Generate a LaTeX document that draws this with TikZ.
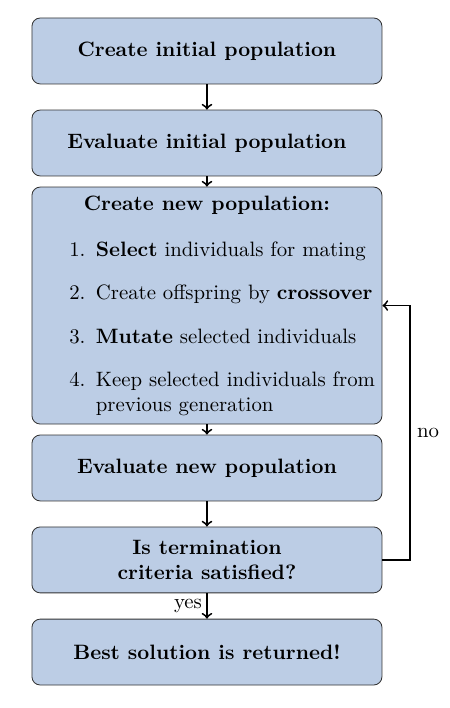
\documentclass[tikz,border=0pt]{standalone}
\usetikzlibrary{positioning}
\definecolor{boxfill}{RGB}{188,205,229}
\begin{document}
\begin{tikzpicture}[
  box/.style={draw=black!80, line width=0.4pt, fill=boxfill, rounded corners=4pt,
    minimum width=168.3pt, minimum height=31.7pt, align=center, font=\bfseries, inner sep=3.33pt},
  conn/.style={->, line width=0.9pt}
]
\useasboundingbox (0,0) rectangle (216.3pt,-340.4pt);
\node[box] (b1) at (99.5pt,-24.5pt) {Create initial population};
\node[box] (b2) at (99.5pt,-68.75pt) {Evaluate initial population};
\node[box, font=\normalfont, inner sep=3.33pt] (b3) at (99.5pt,-146.9pt) {%
  \parbox[c][107.3pt][t]{161.6pt}{\vspace*{1pt}%
  {\centering\textbf{Create new population:}\par}%
  \setlength{\leftmargini}{27.4pt}%
  \begin{enumerate}\setlength{\itemsep}{4.9pt}\setlength{\topsep}{6.6pt}
  \item \textbf{Select} individuals for mating
  \item Create offspring by \textbf{crossover}
  \item \textbf{Mutate} selected individuals
  \item Keep selected individuals from previous generation
  \end{enumerate}}};
\node[box] (b4) at (99.5pt,-225pt) {Evaluate new population};
\node[box] (b5) at (99.5pt,-269.2pt) {Is termination\\criteria satisfied?};
\node[box] (b6) at (99.5pt,-313.5pt) {Best solution is returned!};
\coordinate (c1) at (197.1pt,-269.2pt);
\coordinate (c2) at (197.1pt,-146.9pt);
\draw[conn] (b1) -- (b2);
\draw[conn] (b2) -- (b3);
\draw[conn] (b3) -- (b4);
\draw[conn] (b4) -- (b5);
\draw[conn] (b5) -- node[left, inner sep=2pt] {yes} (b6);
\draw[conn] (b5.east) -- (c1) -- node[right, inner sep=3pt] {no} (c2) -- (b3.east);
\end{tikzpicture}
\end{document}
